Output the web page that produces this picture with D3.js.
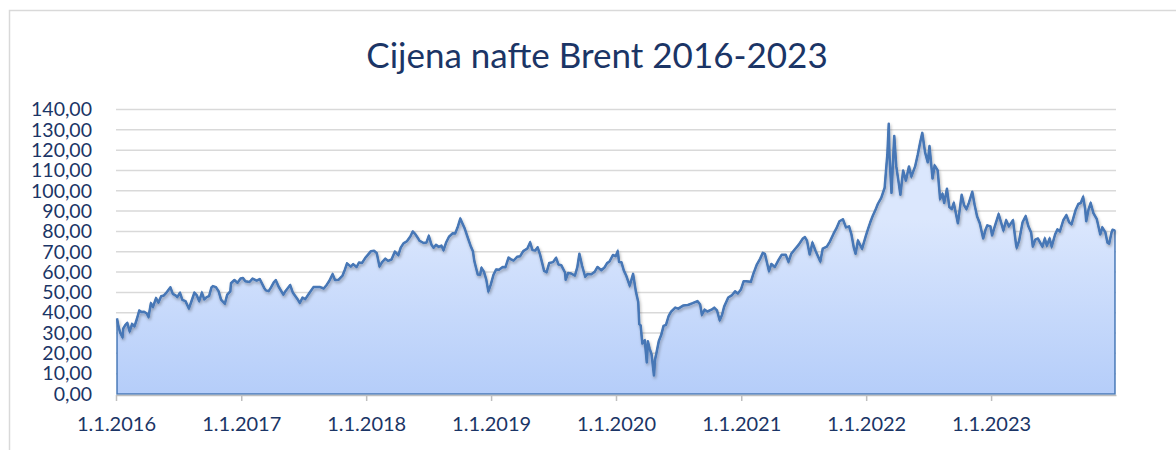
<!DOCTYPE html>
<html>
<head>
<meta charset="utf-8">
<script src="https://cdn.jsdelivr.net/npm/d3@7"></script>
<style>
  body { margin: 0; background: #fff; }
  #chart { width: 1176px; height: 450px; }
</style>
</head>
<body>
<div id="chart"></div>
<script>
const title = "Cijena nafte Brent 2016-2023";

const xTickDates = ["2016-01-01", "2017-01-01", "2018-01-01", "2019-01-01",
  "2020-01-01", "2021-01-01", "2022-01-01", "2023-01-01"];
const xTickLabels = ["1.1.2016", "1.1.2017", "1.1.2018", "1.1.2019",
  "1.1.2020", "1.1.2021", "1.1.2022", "1.1.2023"];
const yTicks = [0, 10, 20, 30, 40, 50, 60, 70, 80, 90, 100, 110, 120, 130, 140];

// Brent, USD/bbl
const days2016 = ["01-04","01-08","01-13","01-20","01-22","01-28","02-03","02-10","02-17","02-24","03-02","03-09","03-16","03-23","03-31","04-05","04-12","04-18","04-27","05-04","05-12","05-20","05-26","06-08","06-15","06-24","06-28","07-06","07-13","07-22","08-01","08-08","08-17","08-24","08-31","09-08","09-15","09-22","09-29","10-06","10-10","10-19","10-27","11-03","11-14","11-21","11-30","12-02","12-12","12-21","12-30"];
const brent2016 = [37.2,33.5,30.3,27.9,32.2,33.9,35.0,30.8,34.5,33.3,36.9,41.1,40.3,40.5,39.6,37.9,44.7,42.9,47.2,45.0,48.1,48.5,49.6,52.5,49.3,48.4,47.7,49.8,46.3,45.7,42.1,45.4,49.9,48.6,45.7,49.9,46.6,47.7,48.2,52.5,53.1,52.6,50.5,46.4,44.4,48.9,50.5,54.5,56.1,54.7,56.8];

const days2017 = ["01-06","01-13","01-25","02-03","02-15","02-24","03-09","03-14","03-22","03-29","04-06","04-12","04-20","05-04","05-10","05-24","06-01","06-14","06-21","06-29","07-07","07-19","07-31","08-09","08-18","08-30","09-08","09-15","09-25","10-02","10-12","10-24","10-31","11-06","11-17","11-24","12-04","12-11","12-20","12-29"];
const brent2017 = [57.1,55.5,55.1,56.8,55.8,56.6,52.2,51.0,50.6,52.5,54.9,56.0,52.9,48.9,50.6,53.6,49.8,46.8,44.8,47.4,46.7,49.7,52.6,52.7,52.7,51.9,53.8,55.6,59.0,56.1,56.2,58.3,61.3,64.3,62.7,63.9,62.5,64.7,64.5,66.9];

const days2018 = ["01-04","01-15","01-24","02-01","02-09","02-16","02-26","03-06","03-16","03-26","04-05","04-12","04-20","04-30","05-10","05-17","05-24","06-01","06-06","06-18","06-26","07-03","07-11","07-17","07-24","08-01","08-09","08-15","08-23","08-31","09-11","09-18","09-25","10-03","10-09","10-16","10-25","11-02","11-09","11-13","11-23","11-30","12-04","12-11","12-18","12-24","12-31"];
const brent2018 = [68.1,70.3,70.5,69.3,62.8,64.8,66.6,65.5,66.2,70.1,68.3,72.0,74.1,75.2,77.5,80.0,78.8,76.8,75.4,74.3,74.5,77.8,73.4,72.0,73.4,72.4,73.0,70.8,74.7,77.4,79.1,79.0,81.9,86.3,84.0,81.4,76.9,73.0,70.2,65.5,58.8,58.7,62.1,60.2,56.3,50.5,53.8];

const days2019 = ["01-08","01-16","01-24","02-04","02-12","02-21","02-28","03-08","03-18","03-27","04-05","04-17","04-25","05-02","05-10","05-17","05-24","06-05","06-12","06-20","07-01","07-10","07-17","07-25","08-05","08-07","08-14","08-23","09-03","09-10","09-16","09-24","10-03","10-10","10-21","10-31","11-08","11-19","11-29","12-06","12-13","12-23","12-31"];
const brent2019 = [58.7,61.3,61.1,62.5,62.4,67.1,66.3,65.7,67.5,67.8,70.3,71.6,74.6,70.8,70.6,72.2,68.7,60.6,59.9,64.5,64.9,67.0,63.7,63.4,59.8,56.2,59.5,59.3,58.3,62.4,69.0,63.1,57.7,59.1,58.9,60.2,62.5,60.9,62.4,64.4,65.2,68.4,67.8];

const days2020 = ["01-06","01-10","01-17","01-24","01-31","02-10","02-20","02-28","03-06","03-09","03-13","03-18","03-25","03-31","04-03","04-08","04-14","04-21","04-24","04-28","05-05","05-12","05-19","05-26","06-03","06-10","06-22","07-01","07-15","07-29","08-12","08-26","09-03","09-08","09-16","09-24","10-06","10-14","10-22","10-30","11-06","11-12","11-24","12-04","12-14","12-22","12-31"];
const brent2020 = [70.3,65.0,64.8,60.7,58.2,53.3,59.1,50.5,45.3,34.4,33.8,24.9,26.4,15.5,26.0,22.5,19.5,9.1,17.0,20.0,26.0,29.0,33.5,34.0,38.5,40.5,42.5,42.0,43.5,43.8,44.7,45.7,44.0,39.0,41.5,40.6,41.5,42.5,41.2,36.3,39.0,43.0,47.5,48.5,50.5,49.5,51.4];

const days2021 = ["01-08","01-15","01-29","02-05","02-15","02-25","03-05","03-11","03-23","03-30","04-09","04-20","04-29","05-11","05-19","05-27","06-08","06-18","06-30","07-06","07-12","07-20","07-28","08-06","08-20","08-27","09-08","09-17","09-28","10-06","10-15","10-25","11-03","11-12","11-19","11-26","12-01","12-08","12-20","12-31"];
const brent2021 = [55.5,55.5,55.2,59.0,63.5,66.5,69.5,69.0,60.5,64.0,62.5,66.0,68.5,68.5,65.0,69.0,71.5,73.5,76.5,77.2,75.5,68.6,74.5,70.5,65.2,71.5,72.5,75.0,79.0,81.5,85.0,86.0,82.0,82.5,78.5,72.0,69.0,75.5,71.5,77.8];

const days2022 = ["01-07","01-13","01-21","01-28","02-04","02-14","02-24","03-01","03-04","03-08","03-10","03-16","03-24","03-30","04-06","04-11","04-19","04-27","05-06","05-13","05-24","06-01","06-08","06-14","06-22","06-30","07-05","07-14","07-20","07-29","08-05","08-12","08-17","08-25","09-01","09-08","09-14","09-26","10-07","10-14","10-21","10-28","11-07","11-14","11-21","11-29","12-07","12-09","12-16","12-21","12-30"];
const brent2022 = [81.5,84.5,88.0,90.5,93.5,96.5,101.5,112.0,118.0,133.0,118.0,99.0,127.0,112.0,104.0,98.0,110.0,105.0,112.0,107.0,112.0,118.0,124.0,128.5,119.0,114.0,122.0,106.0,112.5,110.0,96.0,98.5,94.0,101.0,92.0,91.0,94.0,84.0,98.0,93.0,91.0,94.0,99.5,93.0,87.5,84.0,78.0,76.5,81.0,83.0,82.5];

const days2023 = ["01-04","01-10","01-23","01-31","02-06","02-14","02-22","03-06","03-15","03-17","03-24","04-03","04-12","04-20","04-28","05-03","05-10","05-18","05-31","06-07","06-13","06-21","06-27","07-07","07-14","07-21","07-31","08-09","08-17","08-24","09-05","09-13","09-20","09-27","10-03","10-06","10-13","10-19","10-27","11-06","11-16","11-22","12-01","12-07","12-12","12-19","12-22","12-29"];
const brent2023 = [78.0,81.5,88.5,84.0,80.5,85.5,82.5,85.5,73.5,72.0,75.5,84.5,87.5,82.5,79.5,72.5,76.0,76.5,72.5,76.5,73.0,76.5,72.5,78.5,81.0,80.0,85.5,88.0,84.5,83.5,90.5,93.5,94.0,97.0,91.0,85.0,91.0,94.0,89.0,86.0,78.5,82.0,79.5,74.5,74.0,79.5,80.8,80.4];

const years = [
  [2016, days2016, brent2016], [2017, days2017, brent2017],
  [2018, days2018, brent2018], [2019, days2019, brent2019],
  [2020, days2020, brent2020], [2021, days2021, brent2021],
  [2022, days2022, brent2022], [2023, days2023, brent2023]
];

const parse = d3.timeParse("%Y-%m-%d");
const data = years.flatMap(([y, days, vals]) =>
  days.map((d, i) => ({ date: parse(`${y}-${d}`), value: vals[i] })));

const drawGraph = () => {
  const fullWidth = 1176;
  const fullHeight = 450;
  const margin = { top: 109.5, right: 60, bottom: 56, left: 116 };
  const width = 1116 - margin.left;
  const height = 394 - margin.top;
  const navy = "#1b3566";
  const font = "Lato, 'Open Sans', sans-serif";

  const svg = d3
    .select("#chart")
    .append("svg")
    .attr("width", fullWidth)
    .attr("height", fullHeight);

  const defs = svg.append("defs");
  const grad = defs
    .append("linearGradient")
    .attr("id", "fill")
    .attr("gradientUnits", "userSpaceOnUse")
    .attr("x1", 0).attr("x2", 0)
    .attr("y1", margin.top).attr("y2", margin.top + height);
  grad.append("stop").attr("offset", "0%").attr("stop-color", "#dbe7fd");
  grad.append("stop").attr("offset", "100%").attr("stop-color", "#9dbdf7");

  const shadow = defs.append("filter").attr("id", "shadow")
    .attr("x", "-5%").attr("y", "-10%").attr("width", "110%").attr("height", "130%");
  shadow.append("feDropShadow")
    .attr("dx", 1).attr("dy", 2).attr("stdDeviation", 1.5)
    .attr("flood-color", "#000").attr("flood-opacity", 0.3);

  // chart frame
  svg.append("rect")
    .attr("x", 9.5).attr("y", 10.5)
    .attr("width", 1300).attr("height", 600)
    .attr("fill", "none")
    .attr("stroke", "#d9d9d9")
    .attr("stroke-width", 1.5);

  svg.append("text")
    .attr("x", 597)
    .attr("y", 68)
    .attr("text-anchor", "middle")
    .style("font-family", font)
    .style("font-size", "35px")
    .style("fill", navy)
    .text(title);

  const g = svg.append("g")
    .attr("transform", `translate(${margin.left}, ${margin.top})`);

  const xScale = d3
    .scaleTime()
    .domain([parse("2016-01-01"), parse("2024-01-01")])
    .range([0, width]);

  const yScale = d3
    .scaleLinear()
    .domain([0, 140])
    .range([height, 0]);

  // gridlines
  g.append("g")
    .selectAll("line")
    .data(yTicks.slice(1))
    .join("line")
    .attr("x1", 0)
    .attr("x2", width)
    .attr("y1", d => yScale(d))
    .attr("y2", d => yScale(d))
    .attr("stroke", "#d9d9d9")
    .attr("stroke-width", 1.5);

  const area = d3.area()
    .x(d => xScale(d.date))
    .y0(yScale(0))
    .y1(d => yScale(d.value));

  const line = d3.line()
    .x(d => xScale(d.date))
    .y(d => yScale(d.value));

  g.append("path")
    .datum(data)
    .attr("d", area)
    .attr("fill", "url(#fill)")
    .attr("stroke", "#4a7ab8")
    .attr("stroke-width", 1.5);

  g.append("path")
    .datum(data)
    .attr("d", line)
    .attr("fill", "none")
    .attr("stroke", "#4777b6")
    .attr("stroke-width", 2.5)
    .attr("stroke-linejoin", "round")
    .attr("filter", "url(#shadow)");

  // y axis labels
  const fmt = d => d3.format(".2f")(d).replace(".", ",");
  const yAxis = d3.axisLeft(yScale)
    .tickValues(yTicks)
    .tickFormat(fmt)
    .tickSize(0)
    .tickPadding(24);
  const ya = g.append("g").call(yAxis);
  ya.select(".domain").remove();
  ya.selectAll("text")
    .style("font-family", font)
    .style("font-size", "19.5px")
    .style("fill", navy);

  // x axis
  const tickDates = xTickDates.map(parse);
  const xAxis = d3.axisBottom(xScale)
    .tickValues(tickDates)
    .tickFormat((d, i) => xTickLabels[i])
    .tickSizeInner(6)
    .tickSizeOuter(0)
    .tickPadding(16);
  const xa = g.append("g")
    .attr("transform", `translate(0, ${height + 1})`)
    .call(xAxis);
  xa.select(".domain").attr("stroke", "#bfbfbf").attr("stroke-width", 1.5);
  xa.selectAll(".tick line").attr("stroke", "#bfbfbf").attr("stroke-width", 1.5);
  xa.selectAll("text")
    .style("font-family", font)
    .style("font-size", "20px")
    .style("fill", navy);
};

drawGraph();
</script>
</body>
</html>
